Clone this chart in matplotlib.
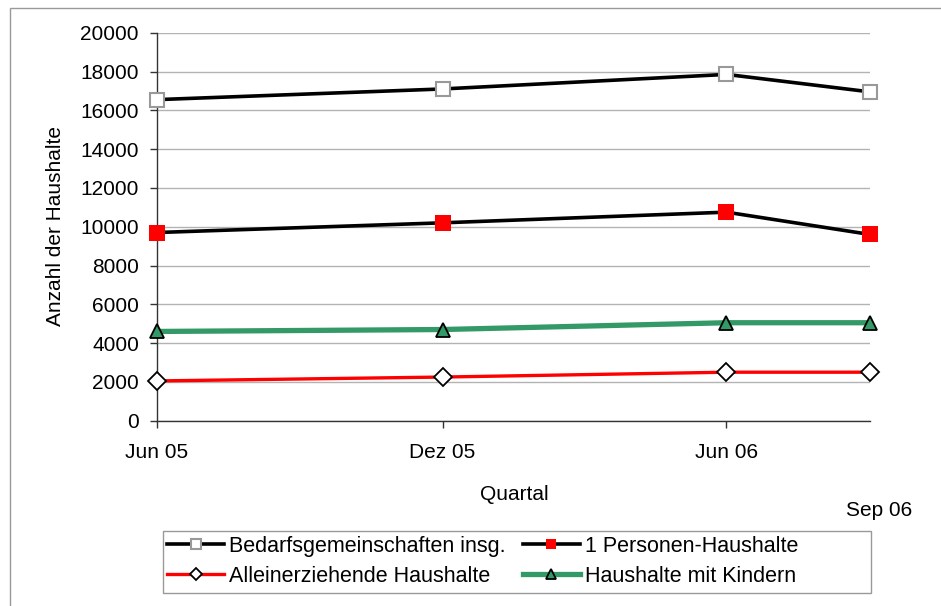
import numpy as np
import matplotlib
matplotlib.use("Agg")
import matplotlib.pyplot as plt
from matplotlib.patches import Rectangle

plt.rcParams['font.family'] = ['Liberation Sans', 'DejaVu Sans']

# data
quartale = np.array(['2005-06-01', '2005-12-01', '2006-06-01', '2006-09-01'], dtype='datetime64[D]')
tick_dates = np.array(['2005-06-01', '2005-12-01', '2006-06-01'], dtype='datetime64[D]')
tick_labels = ['Jun 05', 'Dez 05', 'Jun 06']
bedarf = [16550, 17100, 17850, 16950]
personen1 = [9700, 10200, 10750, 9600]
allein = [2050, 2250, 2500, 2500]
kinder = [4600, 4700, 5050, 5050]

W, H = 941, 606
FS = 15
fig = plt.figure(figsize=(W / 100, H / 100), dpi=100)
ax = fig.add_axes([157 / W, 1 - 420.7 / H, (870 - 157) / W, (420.7 - 32.7) / H])

l1, = ax.plot(quartale, bedarf, color='black', lw=2.6, marker='s', ms=10,
              mfc='white', mec='#999999', mew=1.5, clip_on=False, zorder=4,
              label='Bedarfsgemeinschaften insg.')
l2, = ax.plot(quartale, personen1, color='black', lw=2.6, marker='s', ms=11.5,
              mfc='#ff0000', mec='#ff0000', mew=0, clip_on=False, zorder=4,
              label='1 Personen-Haushalte')
l3, = ax.plot(quartale, allein, color='#ff0000', lw=2.4, marker='D', ms=9,
              mfc='white', mec='black', mew=1.3, clip_on=False, zorder=4,
              label='Alleinerziehende Haushalte')
l4, = ax.plot(quartale, kinder, color='#339966', lw=3.8, marker='^', ms=10.5,
              mfc='#339966', mec='black', mew=1.3, clip_on=False, zorder=4,
              label='Haushalte mit Kindern')

ax.set_xlim(quartale[0], quartale[-1])
ax.set_ylim(0, 20000)
ax.set_yticks(np.arange(0, 20001, 2000))
ax.set_xticks(tick_dates)
ax.set_xticklabels(tick_labels)
ax.yaxis.grid(True, color='#b3b3b3', lw=1)
ax.set_axisbelow(True)
for s in ['top', 'right']:
    ax.spines[s].set_visible(False)
for s in ['left', 'bottom']:
    ax.spines[s].set_color('#333333')
    ax.spines[s].set_linewidth(1)
ax.tick_params(axis='y', length=5, width=1, color='#333333', labelsize=FS, pad=8)
ax.tick_params(axis='x', length=5, width=1, color='#333333', labelsize=FS, pad=11)

fig.text(56 / W, 1 - 226 / H, 'Anzahl der Haushalte', rotation=90,
         ha='center', va='center', fontsize=FS)
fig.text(514 / W, 1 - 495 / H, 'Quartal', ha='center', va='center', fontsize=FS)
fig.text(879 / W, 1 - 510 / H, 'Sep 06', ha='center', va='center', fontsize=FS)

# outer chart frame (clipped at right/bottom like the reference)
fig.patches.append(Rectangle((10 / W, -0.1), 1.2, 1 - 8 / H + 0.1,
                             transform=fig.transFigure, fill=False,
                             ec='#999999', lw=1))

# legend box drawn separately, entries row-wise
fig.patches.append(Rectangle((163 / W, 1 - 593 / H), (871 - 163) / W, (593 - 531) / H,
                             transform=fig.transFigure, fill=False,
                             ec='#999999', lw=1))
leg = fig.legend([l1, l3, l2, l4], [l1.get_label(), l3.get_label(), l2.get_label(), l4.get_label()],
                 loc='upper left', bbox_to_anchor=(167 / W, 1 - 536 / H),
                 ncol=2, fontsize=15.5, numpoints=1, markerscale=0.65,
                 handlelength=2.65, handletextpad=0.23, columnspacing=0.8,
                 borderpad=0.0, labelspacing=0.41, frameon=False, borderaxespad=0)

fig.savefig('out.png', dpi=100)
